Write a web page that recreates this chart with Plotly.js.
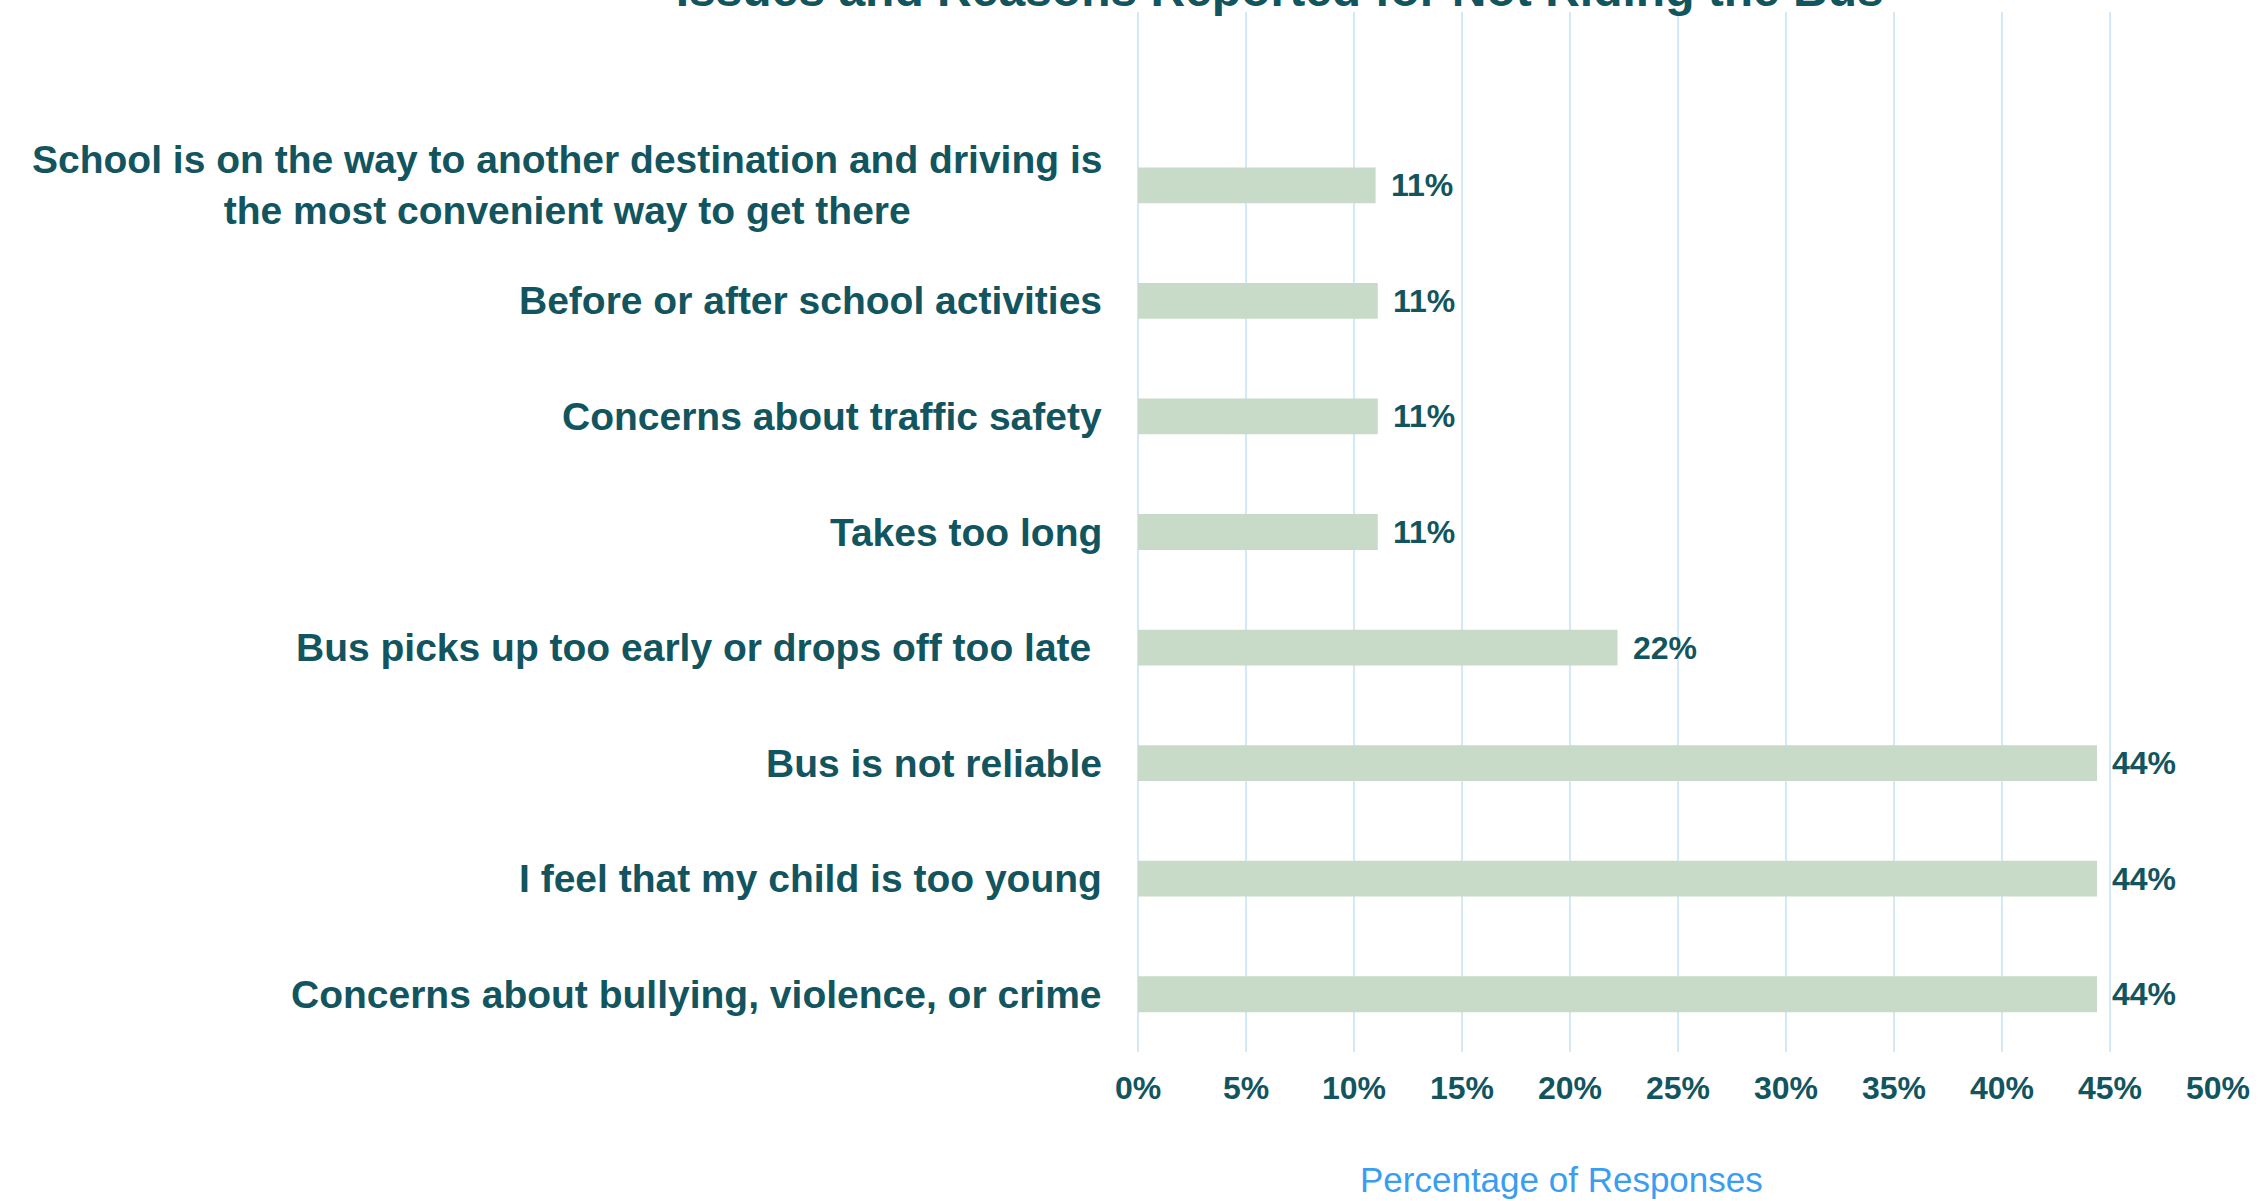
<!DOCTYPE html>
<html>
<head>
<meta charset="utf-8">
<script src="https://cdn.plot.ly/plotly-3.0.1.min.js"></script>
<style>
html,body{margin:0;padding:0;background:#fff;}
#chart{width:2263px;height:1201px;}
</style>
</head>
<body>
<div id="chart"></div>
<script>
// Categories listed bottom-to-top (as drawn on the y axis)
const categories = [
  "Concerns about bullying, violence, or crime",
  "I feel that my child is too young",
  "Bus is not reliable",
  "Bus picks up too early or drops off too late\u00a0",
  "Takes too long",
  "Concerns about traffic safety",
  "Before or after school activities",
  "School is on the way to another destination and driving is<br>the most convenient way to get there"
];
const values = [44.4, 44.4, 44.4, 22.2, 11.1, 11.1, 11.1, 11.0];
const xTickVals = [0, 5, 10, 15, 20, 25, 30, 35, 40, 45, 50];
const xTickText = ["0%", "5%", "10%", "15%", "20%", "25%", "30%", "35%", "40%", "45%", "50%"];
const chartTitle = "Issues and Reasons Reported for Not Riding the Bus";
const xTitle = "Percentage of Responses";

const TEAL = "#12555E";
const FONT = "Liberation Sans, Arial, sans-serif";

const trace = {
  type: "bar",
  orientation: "h",
  x: values,
  y: categories,
  width: 0.31,
  marker: {color: "#C8DBC8"},
  hoverinfo: "x+y",
  showlegend: false
};

const annotations = [];
categories.forEach((c, i) => {
  annotations.push({
    xref: "paper", yref: "y",
    x: -0.0318, y: c,
    xanchor: "right", yanchor: "middle",
    align: "center",
    text: c,
    showarrow: false,
    font: {family: FONT, size: 39, color: TEAL, weight: "bold"}
  });
  annotations.push({
    xref: "x", yref: "y",
    x: values[i], y: c,
    xanchor: "left", yanchor: "middle",
    xshift: 13,
    text: Math.round(values[i]) + "%",
    showarrow: false,
    font: {family: FONT, size: 32, color: TEAL, weight: "bold"}
  });
});
annotations.push({
  xref: "paper", yref: "paper",
  x: 0.392, y: -0.123,
  xanchor: "center", yanchor: "middle",
  text: xTitle,
  showarrow: false,
  font: {family: FONT, size: 35, color: "#3A9DF0"}
});

const layout = {
  width: 2263,
  height: 1201,
  autosize: false,
  paper_bgcolor: "#ffffff",
  plot_bgcolor: "#ffffff",
  margin: {l: 1138, r: 45, t: 12, b: 149, pad: 0},
  title: {
    text: chartTitle,
    xref: "container", yref: "container",
    x: 0.5655, xanchor: "center",
    y: 0.995, yanchor: "bottom",
    font: {family: FONT, size: 48, color: TEAL, weight: "bold"}
  },
  xaxis: {
    range: [0, 50],
    tickvals: xTickVals,
    ticktext: xTickText,
    showgrid: true,
    gridcolor: "#D3E8F9",
    gridwidth: 2,
    zeroline: true,
    zerolinecolor: "#D3E8F9",
    zerolinewidth: 2,
    showline: false,
    ticks: "outside",
    ticklen: 8,
    tickcolor: "rgba(0,0,0,0)",
    tickfont: {family: FONT, size: 32, color: TEAL, weight: "bold"},
    fixedrange: true
  },
  yaxis: {
    type: "category",
    categoryorder: "array",
    categoryarray: categories,
    range: [-0.5, 8.5],
    showticklabels: false,
    showgrid: false,
    zeroline: false,
    showline: false,
    ticks: "",
    fixedrange: true
  },
  annotations: annotations
};

Plotly.newPlot("chart", [trace], layout, {displayModeBar: false, staticPlot: true});
</script>
</body>
</html>
